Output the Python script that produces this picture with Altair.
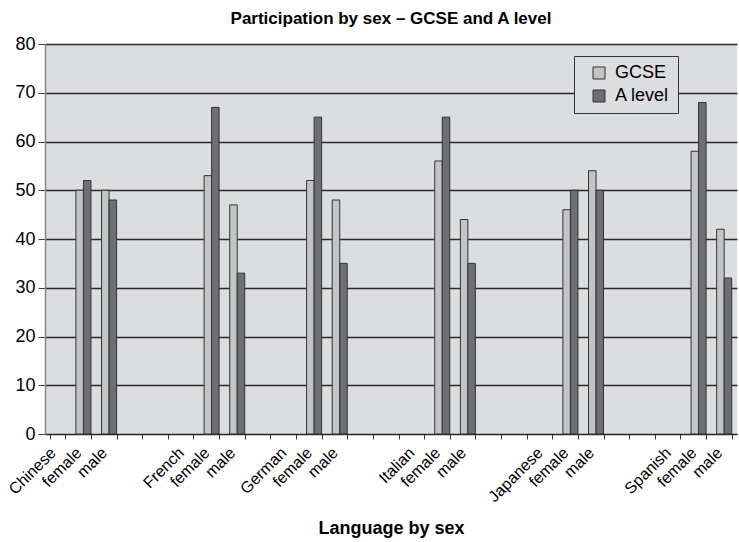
import json
import altair as alt
import pandas as pd

categories = ["Chinese", "female", "male", "", "", "French", "female", "male", "",
              "German", "female", "male", "", "", "Italian", "female", "male", "", "",
              "Japanese", "female", "male", "", "", "Spanish", "female", "male"]
languages = ["Chinese", "French", "German", "Italian", "Japanese", "Spanish"]
series = ["GCSE", "A level"]
gcse_female = [50, 53, 52, 56, 46, 58]
alevel_female = [52, 67, 65, 65, 50, 68]
gcse_male = [50, 47, 48, 44, 54, 42]
alevel_male = [48, 33, 35, 35, 50, 32]
y_ticks = [0, 10, 20, 30, 40, 50, 60, 70, 80]

rows = []
for i, lang in enumerate(languages):
    base = categories.index(lang)
    for j, (g, a) in enumerate([(gcse_female[i], alevel_female[i]), (gcse_male[i], alevel_male[i])]):
        pos = base + 1 + j
        rows.append(dict(pos=pos, series="GCSE", value=g))
        rows.append(dict(pos=pos, series="A level", value=a))
df = pd.DataFrame(rows)

FONT = "Liberation Sans"
label_expr = json.dumps(categories) + "[datum.value]"

chart = alt.Chart(df).mark_bar(stroke="#333333", strokeWidth=1).encode(
    x=alt.X("pos:O",
            scale=alt.Scale(domain=list(range(len(categories))), paddingInner=0.414, paddingOuter=0.207),
            axis=alt.Axis(labelExpr=label_expr, labelAngle=-45, labelAlign="right", labelBaseline="middle",
                          labelFontSize=16, labelFont=FONT, labelColor="#000", labelPadding=11,
                          labelOffset=-5,
                          tickBand="extent", tickSize=5, tickColor="#333", domainColor="#222",
                          title="Language by sex", titleFont=FONT, titleFontSize=18, titleFontWeight="bold",
                          titleColor="#000", titleX=346, titleY=85, titleAnchor="middle",
                          titleBaseline="top")),
    xOffset=alt.XOffset("series:N", scale=alt.Scale(domain=series, paddingInner=0, paddingOuter=0)),
    y=alt.Y("value:Q", scale=alt.Scale(domain=[0, 80]),
            axis=alt.Axis(values=y_ticks, title=None, grid=True, gridColor="#2a2a2a", gridWidth=1.3,
                          labelFontSize=18, labelFont=FONT, labelColor="#000", tickSize=7, tickColor="#444",
                          domainColor="#888888", domainWidth=1.5, labelPadding=3)),
    color=alt.Color("series:N", scale=alt.Scale(domain=series, range=["#c3c4c6", "#6e6f72"]),
                    legend=alt.Legend(title=None, orient="none", legendX=529, legendY=12,
                                      strokeColor="#333", fillColor="#dcdddf", padding=8,
                                      labelFontSize=18, labelFont=FONT, labelColor="#000",
                                      symbolType="square", symbolSize=144, symbolStrokeColor="#333",
                                      symbolStrokeWidth=1, symbolOffset=8, rowPadding=5, labelOffset=7)),
).properties(
    width=692, height=390,
    title=alt.TitleParams("Participation by sex – GCSE and A level", font=FONT, fontSize=17,
                          fontWeight="bold", color="#000", offset=7),
    autosize=alt.AutoSizeParams(type="none"),
    padding={"left": 45, "top": 44, "right": 2, "bottom": 108},
).configure_view(fill="#dcdddf", stroke=None)

chart.save("out.html", embed_options={"renderer": "svg", "actions": False})
